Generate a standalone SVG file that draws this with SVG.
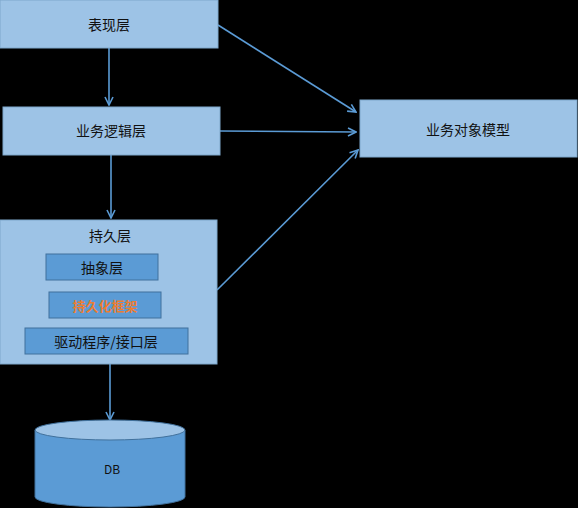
<svg xmlns="http://www.w3.org/2000/svg" width="578" height="508" viewBox="0 0 578 508">
<defs>
<marker id="arr" viewBox="0 0 10 10" refX="9" refY="5" markerWidth="10" markerHeight="10" markerUnits="userSpaceOnUse" orient="auto">
<path d="M1,1 L9,5 L1,9" fill="none" stroke="#5B9BD5" stroke-width="1.6"/>
</marker>
<style>
.lb{fill:#9DC3E6;stroke:#7FA8CC;stroke-width:1}
.db{fill:#5B9BD5;stroke:#41719C;stroke-width:1}
.t{font-family:"Noto Sans CJK SC","Liberation Sans",sans-serif;font-size:14px;fill:#111;text-anchor:middle;dominant-baseline:central}
.c{stroke:#5B9BD5;stroke-width:1.6;fill:none;marker-end:url(#arr)}
</style>
</defs>
<rect width="578" height="508" fill="#000"/>
<g id="connectors">
<line class="c" x1="109" y1="48" x2="109" y2="105"/>
<line class="c" x1="111" y1="155" x2="111" y2="218"/>
<line class="c" x1="110" y1="364" x2="110" y2="420"/>
<line class="c" x1="218" y1="25" x2="356" y2="112"/>
<line class="c" x1="220" y1="131" x2="356" y2="132"/>
<line class="c" x1="217" y1="290" x2="358" y2="150"/>
</g>
<g id="presentation">
<rect class="lb" x="0" y="0" width="218" height="48"/>
<text class="t" x="109" y="24">表现层</text>
</g>
<g id="business">
<rect class="lb" x="3" y="107" width="217" height="48"/>
<text class="t" x="111" y="130">业务逻辑层</text>
</g>
<g id="model">
<rect class="lb" x="360" y="100" width="217" height="57"/>
<text class="t" x="468" y="129">业务对象模型</text>
</g>
<g id="persistence">
<rect class="lb" x="0" y="220" width="217" height="144"/>
<text class="t" x="110" y="235">持久层</text>
</g>
<g id="abstract">
<rect class="db" x="46" y="254" width="112" height="26"/>
<text class="t" x="102" y="267">抽象层</text>
</g>
<g id="framework">
<rect class="db" x="49" y="292" width="112" height="26"/>
<text class="t" x="105" y="305" style="fill:#ED7D31;font-weight:bold;font-size:13px">持久化框架</text>
</g>
<g id="driver">
<rect class="db" x="25" y="328" width="163" height="26"/>
<text class="t" x="106" y="341">驱动程序/接口层</text>
</g>
<g id="db">
<path class="db" d="M35,430 L35,497 A75,10 0 0 0 185,497 L185,430 Z"/>
<ellipse cx="110" cy="430" rx="75" ry="10" fill="#9DC3E6" stroke="#41719C" stroke-width="1"/>
<text class="t" x="112" y="468" style="font-size:12px">DB</text>
</g>
</svg>
